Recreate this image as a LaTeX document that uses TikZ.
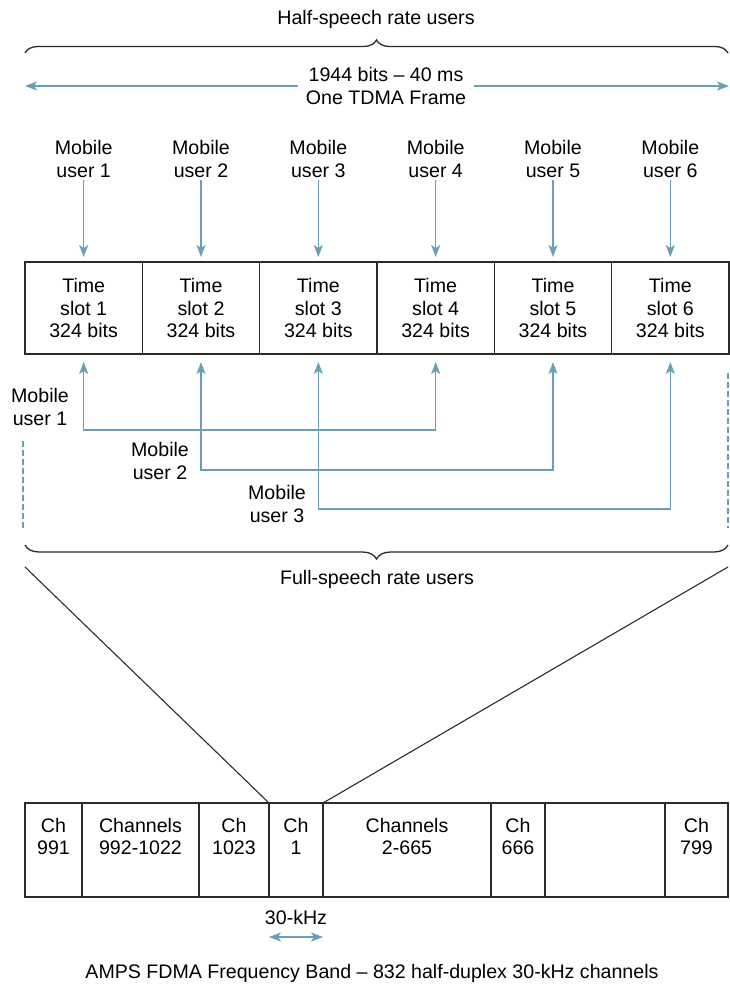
\documentclass[tikz,border=0pt]{standalone}
\usepackage{fontspec}
\setmainfont{Liberation Sans}
\usetikzlibrary{arrows.meta,decorations.pathreplacing}
\definecolor{cflow}{HTML}{6E9DB8}
\definecolor{cline}{HTML}{2B2B2B}
\tikzset{
  every picture/.style={x=1pt, y=-1pt, font=\fontsize{19.6}{22.5}\selectfont},
  flow/.style={cflow, line width=1.3pt, >={Stealth[length=12pt,width=9pt,inset=3pt]}},
  slotbox/.style={draw=cline, line width=1.3pt, minimum width=117.33pt,
    minimum height=92pt, outer sep=0pt, align=center},
  chbox/.style={draw=cline, line width=1.3pt, minimum height=94pt, outer sep=0pt, inner sep=0pt},
  lbl/.style={align=center, inner sep=2pt},
  bracket/.style={cline, line width=1.3pt, decorate},
  funnel/.style={cline, line width=1.1pt},
}
\def\sw{117.33}

\begin{document}
\begin{tikzpicture}
  \useasboundingbox (0,0) rectangle (730,985);
  % frame of six slots
  \node (half) at (376,19) {Half-speech rate users};
  \draw[bracket, decoration={brace, amplitude=13pt}] (25,53) -- (728,53);
  \node[lbl, fill=white, inner xsep=8pt] (frame) at (386,86) {1944 bits -- 40 ms\\One TDMA Frame};
  \coordinate (fl) at (25,86);
  \coordinate (fr) at (729,86);
  \draw[flow,->] (frame) -- (fl);
  \draw[flow,->] (frame) -- (fr);
  \foreach \i in {1,...,6} {
    \node[slotbox] (slot\i) at ({25+\sw*(\i-0.5)},308) {Time\\slot \i\\324 bits};
    \node[lbl] (mu\i) at ({25+\sw*(\i-0.5)},159) {Mobile\\user \i};
    \draw[flow,->,shorten >=5pt] (mu\i) -- (slot\i);
  }
  % full-speech users
  \node[lbl] (lu1) at (40,407) {Mobile\\user 1};
  \node[lbl] (lu2) at (160,461) {Mobile\\user 2};
  \node[lbl] (lu3) at (277,504) {Mobile\\user 3};
  \coordinate (r1) at (0,430);
  \coordinate (r2) at (0,470);
  \coordinate (r3) at (0,509);
  \draw[flow,<->,shorten <=8pt,shorten >=8pt] (slot1.south) -- (slot1.south |- r1) -- (slot4.south |- r1) -- (slot4.south);
  \draw[flow,<->,shorten <=8pt,shorten >=8pt] (slot2.south) -- (slot2.south |- r2) -- (slot5.south |- r2) -- (slot5.south);
  \draw[flow,<->,shorten <=8pt,shorten >=8pt] (slot3.south) -- (slot3.south |- r3) -- (slot6.south |- r3) -- (slot6.south);
  \draw[flow, line width=1.2pt, dash pattern=on 6pt off 3pt] (23,441) -- (23,528);
  \draw[flow, line width=1.2pt, dash pattern=on 6pt off 3pt] (728,373) -- (728,528);
  \draw[bracket, decoration={brace, mirror, amplitude=14pt}] (25,545) -- (728,545);
  \node (full) at (377,579) {Full-speech rate users};
  % AMPS band
  \foreach \l/\r/\t [count=\k] in {25/82/{Ch\\991}, 82/199/{Channels\\992-1022},
      199/269/{Ch\\1023}, 269/323/{Ch\\1}, 323/491/{Channels\\2-665},
      491/545/{Ch\\666}, 545/665/{}, 665/728/{Ch\\799}} {
    \pgfmathsetmacro\cw{\r-\l}
    \node[chbox, minimum width=\cw pt] (ch\k) at ({(\l+\r)/2},850) {};
    \node[lbl, anchor=north, inner sep=0pt] (cht\k) at ([yshift=-15pt]ch\k.north) {\t};
  }
  \coordinate (bl) at (25,567);
  \coordinate (br) at (728,567);
  \draw[funnel] (bl) -- (ch4.north west);
  \draw[funnel] (br) -- (ch4.north east);
  \node (khz) at (296,917) {30-kHz};
  \coordinate (kz) at (0,937);
  \draw[flow,<->] (ch4.south west |- kz) -- (ch4.south east |- kz);
  \node (amps) at (372,973) {AMPS FDMA Frequency Band -- 832 half-duplex 30-kHz channels};
\end{tikzpicture}
\end{document}
